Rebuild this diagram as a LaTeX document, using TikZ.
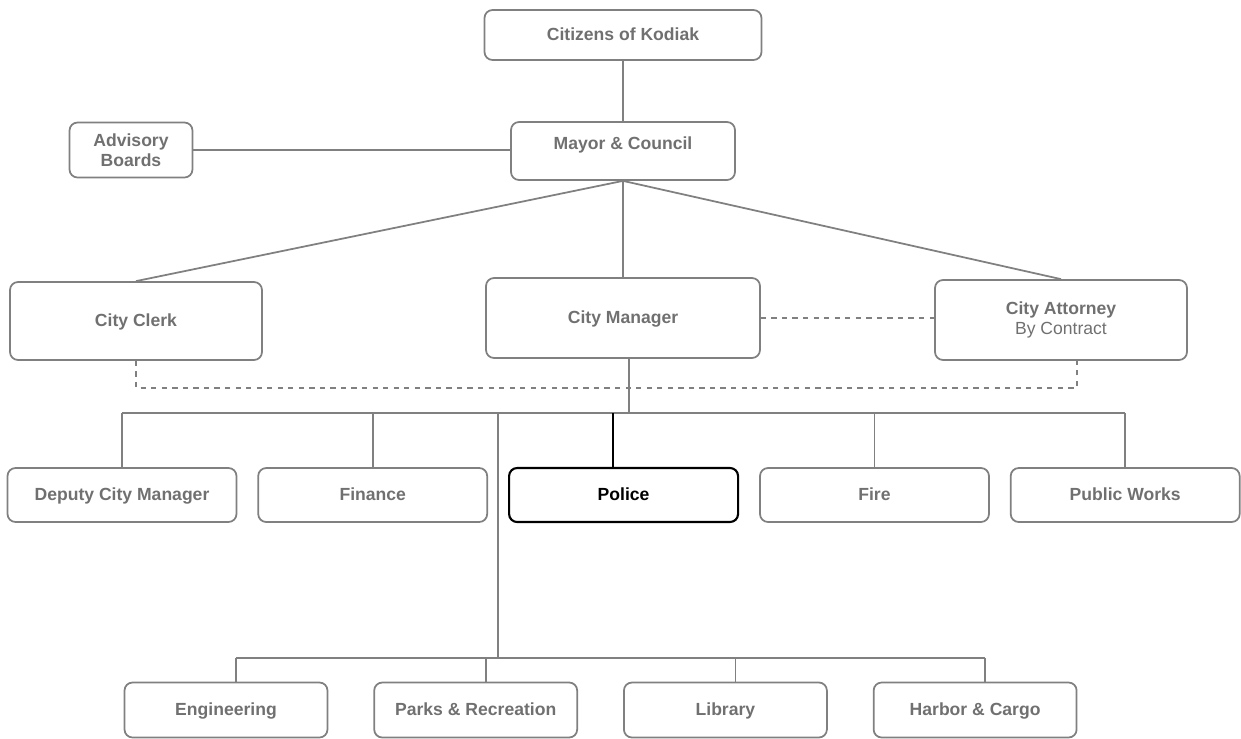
\documentclass[tikz,border=0pt]{standalone}
\usepackage{fontspec}
\setmainfont{Liberation Sans}
\usetikzlibrary{positioning}
\definecolor{orggray}{RGB}{128,128,128}
\definecolor{txtgray}{RGB}{112,112,112}

\begin{document}
\begin{tikzpicture}[x=0.02cm, y=-0.02cm,
    unit/.style={draw=orggray, line width=1pt, rounded corners=0.16cm, text=txtgray,
        font=\fontsize{10}{11.5}\selectfont\bfseries, align=center, inner sep=2pt},
    oneline/.style={text height=1.6ex, text depth=0.4ex},
    dept/.style={unit, oneline, minimum width=4.58cm, minimum height=1.08cm},
    svc/.style={unit, oneline, minimum width=4.06cm, minimum height=1.1cm},
    link/.style={draw=orggray, line width=1pt},
    dotlink/.style={link, dashed}
]
\useasboundingbox (0,0) rectangle (1241,738);

% Top: citizens, council, boards
\node[unit, oneline, minimum width=5.54cm, minimum height=1cm] (citizens) at (623,35) {Citizens of Kodiak};
\node[unit, minimum width=4.48cm, minimum height=1.16cm, text depth=0.32cm] (mayor) at (623,151) {Mayor \& Council};
\node[unit, minimum width=2.46cm, minimum height=1.1cm] (advisory) at (131,150) {Advisory\\Boards};

% Appointed officers
\node[unit, oneline, minimum width=5.04cm, minimum height=1.56cm] (clerk) at (136,321) {City Clerk};
\node[unit, oneline, minimum width=5.48cm, minimum height=1.6cm] (manager) at (623,318) {City Manager};
\node[unit, minimum width=5.04cm, minimum height=1.6cm] (attorney) at (1061,320) {City Attorney\\{\mdseries By Contract}};

% Departments - first at coordinate, rest relative
\node[dept] (deputy) at (122,495) {Deputy City Manager};
\node[dept, right=0.40cm of deputy] (finance) {Finance};
\node[dept, right=0.40cm of finance, draw=black, text=black, line width=1.2pt] (police) {Police};
\node[dept, right=0.40cm of police] (fire) {Fire};
\node[dept, right=0.40cm of fire] (pubworks) {Public Works};

% Services row
\node[svc] (engineering) at (226,710) {Engineering};
\node[svc, right=0.90cm of engineering] (parks) {Parks \& Recreation};
\node[svc, right=0.90cm of parks] (library) {Library};
\node[svc, right=0.90cm of library] (harbor) {Harbor \& Cargo};

% Upper connectors
\draw[link] (citizens) -- (mayor);
\draw[link] (advisory.east) -- (advisory.east -| mayor.west);
\draw[link] (mayor.south) -- (clerk.north);
\draw[link] (mayor.south) -- (manager.north);
\draw[link] (mayor.south) -- (attorney.north);
\draw[dotlink] (manager.east) -- (manager.east -| attorney.west);
\draw[dotlink] (clerk.south) -- ++(0,27) -| ([xshift=0.32cm]attorney.south);

% Department bus
\coordinate (bus) at (629,413);
\draw[link] ([xshift=0.12cm]manager.south) -- (bus);
\draw[link] (deputy.north |- bus) -- (pubworks.north |- bus);
\foreach \n in {deputy,finance,fire,pubworks}
    \draw[link] (\n.north |- bus) -- (\n.north);
\draw[line width=1.2pt, black] ([xshift=-0.22cm]police.north |- bus) -- ([xshift=-0.22cm]police.north);

% Services bus
\coordinate (bus2) at (498,658);
\draw[link] (bus2 |- bus) -- (bus2);
\draw[link] ([xshift=0.2cm]engineering.north |- bus2) -- ([xshift=0.2cm]harbor.north |- bus2);
\foreach \n in {engineering,parks,library,harbor}
    \draw[link] ([xshift=0.2cm]\n.north |- bus2) -- ([xshift=0.2cm]\n.north);
\end{tikzpicture}
\end{document}
